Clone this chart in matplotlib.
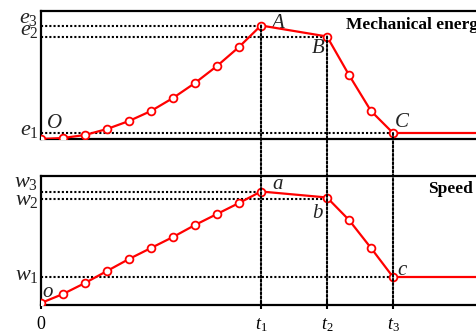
import matplotlib
matplotlib.use('Agg')
import matplotlib.pyplot as plt
from matplotlib.patches import ConnectionPatch

# time steps (t1 = 10, t2 = 13, t3 = 16), last point only carries the flat tail
time = [0, 1, 2, 3, 4, 5, 6, 7, 8, 9, 10, 13, 14, 15, 16, 21]
energy = [0, 1, 4, 10, 18, 28, 41, 56, 73, 92, 113.5, 102.5, 64, 28, 6, 6]
speed = [2, 11, 22, 34, 46, 57, 68, 80, 91, 102, 113.5, 107.5, 85, 57, 28, 28]

t_ticks = [0, 10, 13, 16]
t_labels = ['0', r'$\mathit{t_1}$', r'$\mathit{t_2}$', r'$\mathit{t_3}$']
e_levels = [6, 102.5, 113.5]
e_labels = [r'$\mathit{e_1}$', r'$\mathit{e_2}$', r'$\mathit{e_3}$']
e_label_y = [4, 104, 116.5]
w_levels = [28, 106, 113.5]
w_labels = [r'$\mathit{w_1}$', r'$\mathit{w_2}$', r'$\mathit{w_3}$']
w_label_y = [25, 100, 118.5]

plt.rcParams['font.family'] = 'Liberation Serif'
plt.rcParams['mathtext.fontset'] = 'custom'
plt.rcParams['mathtext.rm'] = 'Liberation Serif'
plt.rcParams['mathtext.it'] = 'Liberation Serif:italic'

fig = plt.figure(figsize=(4.76, 3.31), dpi=100)
ax1 = fig.add_axes([41/476, 1-139/331, 451/476, 128/331])
ax2 = fig.add_axes([41/476, 1-305/331, 451/476, 129/331])
ax1.set_ylim(0, 128)
ax2.set_ylim(0, 129)

dot = (0, (1, 1))
for ax, vals, lev, labs, ly in [(ax1, energy, e_levels, e_labels, e_label_y),
                                (ax2, speed, w_levels, w_labels, w_label_y)]:
    ax.set_xlim(0, 20.5)
    for s in ['top', 'bottom', 'left']:
        ax.spines[s].set_linewidth(1.6)
    ax.spines['right'].set_visible(False)
    # horizontal guides from the axis to the points
    ax.plot([0, time[14]], [lev[0], lev[0]], color='black', ls=dot, lw=1.5)
    ax.plot([0, time[11]], [lev[1], lev[1]], color='black', ls=dot, lw=1.5)
    ax.plot([0, time[10]], [lev[2], lev[2]], color='black', ls=dot, lw=1.5)
    ax.plot(time, vals, color='red', lw=1.6, marker='o', ms=5.6, mfc='white',
            mec='red', mew=1.3, markevery=list(range(15)), zorder=5)
    ax.set_yticks([])
    for y, s in zip(ly, labs):
        ax.text(-0.12, y, s, fontsize=16, ha='right', va='baseline',
                color='#222222', clip_on=False)

ax1.set_xticks([])
ax2.set_xticks(t_ticks)
ax2.set_xticklabels(t_labels, fontsize=13)
ax2.tick_params(axis='x', direction='inout', length=6, width=1.5, pad=5)

# vertical guides at t1, t2, t3 through both panels
for i in [10, 11, 14]:
    con = ConnectionPatch(xyA=(time[i], energy[i]), coordsA=ax1.transData,
                          xyB=(time[i], 0), coordsB=ax2.transData,
                          color='black', ls=dot, lw=1.5, zorder=1)
    fig.add_artist(con)

lab = dict(fontsize=15, style='italic', color='#222222')
ax1.text(0.25, 11, 'O', **lab)
ax1.text(10.45, 111, 'A', **lab)
ax1.text(12.3, 86, 'B', **lab)
ax1.text(16.1, 12, 'C', **lab)
ax2.text(0.05, 8, 'o', **lab)
ax2.text(10.5, 116, 'a', **lab)
ax2.text(12.35, 87, 'b', **lab)
ax2.text(16.2, 30, 'c', **lab)

ax1.text(13.85, 114, 'Mechanical energy', fontsize=12.5, fontweight='bold', va='center')
ax2.text(17.6, 116, 'Speed', fontsize=12.5, fontweight='bold', va='center')

plt.savefig('out.png', format='png')
plt.close()
